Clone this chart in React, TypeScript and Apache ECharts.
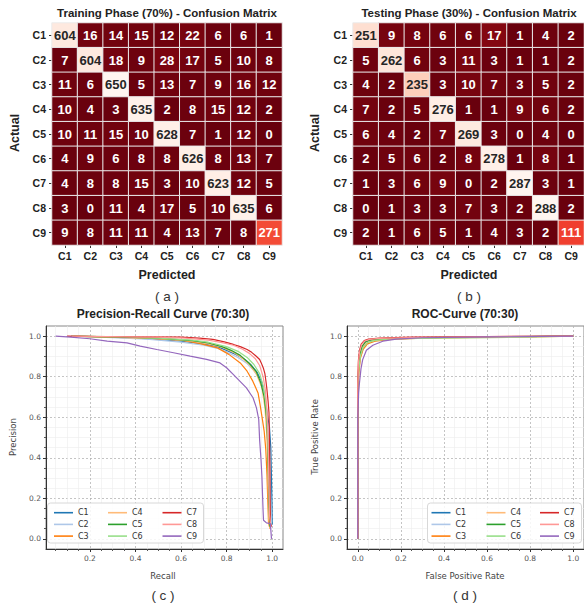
import React, { useEffect, useRef } from "react";
import * as echarts from "echarts";

const classes = ["C1", "C2", "C3", "C4", "C5", "C6", "C7", "C8", "C9"];

const trainMatrix = [
  [604, 16, 14, 15, 12, 22, 6, 6, 1],
  [7, 604, 18, 9, 28, 17, 5, 10, 8],
  [11, 6, 650, 5, 13, 7, 9, 16, 12],
  [10, 4, 3, 635, 2, 8, 15, 12, 2],
  [10, 11, 15, 10, 628, 7, 1, 12, 0],
  [4, 9, 6, 8, 8, 626, 8, 13, 7],
  [4, 8, 8, 15, 3, 10, 623, 12, 5],
  [3, 0, 11, 4, 17, 5, 10, 635, 6],
  [9, 8, 11, 11, 4, 13, 7, 8, 271],
];

const testMatrix = [
  [251, 9, 8, 6, 6, 17, 1, 4, 2],
  [5, 262, 6, 3, 11, 3, 1, 1, 2],
  [4, 2, 235, 3, 10, 7, 3, 5, 2],
  [7, 2, 5, 276, 1, 1, 9, 6, 2],
  [6, 4, 2, 7, 269, 3, 0, 4, 0],
  [2, 5, 6, 2, 8, 278, 1, 8, 1],
  [1, 3, 6, 9, 0, 2, 287, 3, 1],
  [0, 1, 3, 3, 7, 3, 2, 288, 2],
  [2, 1, 6, 5, 1, 4, 3, 2, 111],
];

const seriesColors = ["#1f77b4", "#aec7e8", "#ff7f0e", "#ffbb78", "#2ca02c", "#98df8a", "#d62728", "#ff9896", "#9467bd"];
const redsReversed = ["#67000d", "#a50f15", "#cb181d", "#ef3b2c", "#fb6a4a", "#fc9272", "#fcbba1", "#fee0d2", "#fff5f0"];

const axisTicks = [0, 0.2, 0.4, 0.6, 0.8, 1.0];
const prRecallTicks = [0.2, 0.4, 0.6, 0.8, 1.0];

// Precision-Recall points: [recall, precision]
const prC1 = [[0.12,1.0],[0.3,0.995],[0.45,0.988],[0.6,0.975],[0.7,0.962],[0.76,0.948],[0.8,0.93],[0.84,0.91],[0.88,0.885],[0.91,0.855],[0.935,0.82],[0.955,0.77],[0.968,0.7],[0.978,0.62],[0.988,0.55],[0.994,0.45],[0.997,0.3],[0.999,0.18],[1.0,0.07]];
const prC2 = [[0.12,1.0],[0.3,0.993],[0.45,0.985],[0.6,0.97],[0.7,0.955],[0.76,0.94],[0.8,0.922],[0.85,0.895],[0.89,0.865],[0.92,0.83],[0.945,0.785],[0.96,0.73],[0.972,0.66],[0.98,0.57],[0.987,0.45],[0.991,0.3],[0.994,0.15],[0.997,0.07]];
const prC3 = [[0.13,1.0],[0.3,0.995],[0.42,0.992],[0.6,0.98],[0.68,0.964],[0.76,0.942],[0.81,0.91],[0.86,0.868],[0.89,0.827],[0.915,0.778],[0.938,0.72],[0.948,0.655],[0.957,0.589],[0.965,0.53],[0.972,0.44],[0.977,0.32],[0.981,0.18],[0.984,0.08],[0.99,0.05]];
const prC4 = [[0.12,1.0],[0.35,0.993],[0.5,0.988],[0.65,0.975],[0.72,0.962],[0.78,0.945],[0.83,0.92],[0.87,0.89],[0.9,0.86],[0.93,0.815],[0.955,0.745],[0.968,0.65],[0.976,0.52],[0.98,0.38],[0.983,0.22],[0.985,0.1],[0.99,0.05]];
const prC5 = [[0.12,1.0],[0.35,0.995],[0.5,0.99],[0.65,0.978],[0.72,0.966],[0.78,0.948],[0.82,0.93],[0.86,0.905],[0.9,0.865],[0.93,0.825],[0.95,0.77],[0.965,0.7],[0.975,0.6],[0.98,0.48],[0.983,0.33],[0.986,0.17],[0.99,0.06]];
const prC6 = [[0.12,1.0],[0.35,0.996],[0.5,0.99],[0.65,0.98],[0.72,0.97],[0.8,0.948],[0.85,0.925],[0.89,0.895],[0.92,0.86],[0.945,0.815],[0.962,0.75],[0.973,0.66],[0.98,0.52],[0.985,0.35],[0.989,0.17],[0.993,0.07]];
const prC7 = [[0.1,1.0],[0.3,0.997],[0.45,0.996],[0.6,0.995],[0.68,0.99],[0.74,0.984],[0.79,0.972],[0.83,0.959],[0.86,0.948],[0.89,0.934],[0.91,0.92],[0.93,0.901],[0.945,0.885],[0.952,0.868],[0.962,0.84],[0.968,0.815],[0.973,0.775],[0.977,0.737],[0.982,0.68],[0.986,0.622],[0.988,0.5],[0.99,0.35],[0.991,0.2],[0.992,0.08],[0.997,0.06]];
const prC8 = [[0.12,1.0],[0.35,0.997],[0.5,0.995],[0.62,0.99],[0.72,0.98],[0.78,0.968],[0.83,0.955],[0.87,0.935],[0.9,0.915],[0.925,0.89],[0.945,0.855],[0.96,0.8],[0.97,0.735],[0.977,0.64],[0.982,0.5],[0.985,0.3],[0.988,0.12],[0.993,0.07]];
const prC9 = [[0.05,1.0],[0.116,0.995],[0.2,0.987],[0.276,0.975],[0.363,0.967],[0.421,0.951],[0.494,0.934],[0.567,0.918],[0.64,0.901],[0.712,0.885],[0.771,0.868],[0.8,0.844],[0.829,0.811],[0.858,0.778],[0.887,0.745],[0.916,0.696],[0.931,0.646],[0.941,0.589],[0.945,0.487],[0.951,0.39],[0.955,0.306],[0.958,0.207],[0.96,0.142],[0.962,0.092],[0.975,0.079],[0.992,0.075],[0.997,0.0]];

// ROC points: [false positive rate, true positive rate]
const rocC1 = [[0,0],[0,0.72],[0.004,0.84],[0.01,0.9],[0.02,0.945],[0.035,0.97],[0.06,0.98],[0.1,0.985],[0.2,0.99],[0.4,0.995],[0.7,0.998],[1,1]];
const rocC2 = [[0,0],[0,0.7],[0.005,0.83],[0.012,0.895],[0.025,0.94],[0.045,0.965],[0.08,0.977],[0.15,0.985],[0.3,0.992],[0.6,0.996],[1,1]];
const rocC3 = [[0,0],[0,0.68],[0.005,0.82],[0.012,0.89],[0.025,0.935],[0.045,0.962],[0.08,0.975],[0.15,0.984],[0.3,0.99],[0.6,0.995],[1,1]];
const rocC4 = [[0,0],[0,0.7],[0.004,0.835],[0.01,0.9],[0.022,0.945],[0.04,0.968],[0.07,0.978],[0.13,0.985],[0.3,0.991],[0.8,0.995],[1,1]];
const rocC5 = [[0,0],[0,0.72],[0.004,0.85],[0.01,0.91],[0.02,0.95],[0.035,0.972],[0.06,0.982],[0.12,0.988],[0.3,0.993],[0.7,0.997],[1,1]];
const rocC6 = [[0,0],[0,0.71],[0.005,0.84],[0.012,0.9],[0.025,0.945],[0.045,0.968],[0.08,0.979],[0.15,0.986],[0.35,0.99],[0.7,0.994],[1,1]];
const rocC7 = [[0,0],[0,0.78],[0.003,0.88],[0.008,0.93],[0.016,0.96],[0.03,0.978],[0.05,0.985],[0.1,0.99],[0.25,0.995],[0.6,0.998],[1,1]];
const rocC8 = [[0,0],[0,0.76],[0.003,0.87],[0.009,0.925],[0.018,0.958],[0.032,0.976],[0.055,0.984],[0.1,0.989],[0.3,0.994],[0.6,0.997],[1,1]];
const rocC9 = [[0,0],[0,0.6],[0.004,0.72],[0.008,0.77],[0.015,0.84],[0.023,0.885],[0.04,0.93],[0.07,0.955],[0.116,0.975],[0.178,0.985],[0.3,0.992],[0.6,0.996],[1,1]];

const prCurves = [prC1, prC2, prC3, prC4, prC5, prC6, prC7, prC8, prC9];
const rocCurves = [rocC1, rocC2, rocC3, rocC4, rocC5, rocC6, rocC7, rocC8, rocC9];

const SANS = '"Liberation Sans", Arial, sans-serif';
const MPL = '"DejaVu Sans", sans-serif';

function heatData(m: number[][]) {
  const max = Math.max(...m.flat());
  const out: any[] = [];
  m.forEach((row, i) =>
    row.forEach((v, j) => {
      out.push({ value: [j, i, v], label: { color: v / max > 0.55 ? "#262626" : "#ffffff" } });
    })
  );
  return out;
}

function catAxis(gridIndex: number, isY: boolean) {
  return {
    type: "category",
    gridIndex,
    data: classes,
    inverse: isY,
    axisLine: { show: false },
    axisTick: { show: true, length: 3, alignWithLabel: true, lineStyle: { color: "#333" } },
    axisLabel: { fontFamily: SANS, fontWeight: "bold", fontSize: 10.5, color: "#222", margin: isY ? 6 : 5 },
    splitLine: { show: false },
  };
}

function valAxis(gridIndex: number, min: number, max: number, ticks: number[]) {
  return {
    type: "value",
    gridIndex,
    min,
    max,
    axisLine: { show: true, onZero: false, lineStyle: { color: "#333", width: 1 } },
    axisTick: { show: true, length: 3, customValues: ticks, lineStyle: { color: "#333" } },
    axisLabel: {
      customValues: ticks,
      fontFamily: MPL,
      fontSize: 7.5,
      color: "#555",
      margin: 5,
      formatter: (v: number) => v.toFixed(1),
    },
    splitLine: { show: true, lineStyle: { type: [2, 2], color: "#b5b5b5", width: 0.8 } },
    minorTick: { show: true, splitNumber: 4, length: 2, lineStyle: { color: "#555" } },
    minorSplitLine: { show: true, lineStyle: { color: "#ececec", width: 0.6 } },
  };
}

function txt(text: string, x: number, y: number, font: string, fill = "#222", rotation = 0) {
  return {
    type: "text",
    x,
    y,
    rotation,
    z: 10,
    style: { text, x: 0, y: 0, font, fill, textAlign: "center", textVerticalAlign: "middle" },
  };
}

export default function App() {
  const ref = useRef<HTMLDivElement>(null);
  useEffect(() => {
    if (!ref.current) return;
    const chart = echarts.init(ref.current, undefined, { renderer: "svg" });
    const trainMax = Math.max(...trainMatrix.flat());
    const testMax = Math.max(...testMatrix.flat());

    const heatSeries = (data: any[], idx: number) => ({
      type: "heatmap",
      xAxisIndex: idx,
      yAxisIndex: idx,
      data,
      label: { show: true, fontFamily: SANS, fontWeight: "bold", fontSize: 13, formatter: (p: any) => String(p.value[2]) },
      itemStyle: { borderColor: "#ececec", borderWidth: 1 },
      emphasis: { disabled: true },
    });

    const lineSeries = (curves: number[][][], idx: number) =>
      curves.map((d, i) => ({
        type: "line",
        name: classes[i],
        xAxisIndex: idx,
        yAxisIndex: idx,
        data: d,
        showSymbol: false,
        symbol: "none",
        color: seriesColors[i],
        lineStyle: { color: seriesColors[i], width: 1.2 },
        emphasis: { disabled: true },
        z: 2,
      }));

    const prLegendLeft = [54, 108, 162.5];
    const rocLegendLeft = [431.5, 486.5, 540];
    const legends: any[] = [];
    [prLegendLeft, rocLegendLeft].forEach((lefts) => {
      lefts.forEach((left, k) => {
        legends.push({
          data: classes.slice(k * 3, k * 3 + 3),
          left,
          top: 507.7,
          orient: "vertical",
          icon: "rect",
          itemWidth: 19,
          itemHeight: 1.6,
          itemGap: 1.7,
          padding: 0,
          selectedMode: false,
          textStyle: { fontFamily: MPL, fontSize: 8, lineHeight: 10, color: "#333" },
        });
      });
    });

    const option: any = {
      animation: false,
      backgroundColor: "#ffffff",
      grid: [
        { left: 52, top: 23, width: 230, height: 222 },
        { left: 353, top: 23, width: 231, height: 222 },
        { left: 46, top: 326, width: 237, height: 223, show: true, borderColor: "#888", borderWidth: 1, backgroundColor: "#fff" },
        { left: 347, top: 326, width: 238, height: 223, show: true, borderColor: "#888", borderWidth: 1, backgroundColor: "#fff" },
      ],
      xAxis: [
        catAxis(0, false),
        catAxis(1, false),
        valAxis(2, 0.0075, 1.0475, prRecallTicks),
        valAxis(3, -0.05, 1.05, axisTicks),
      ],
      yAxis: [
        catAxis(0, true),
        catAxis(1, true),
        valAxis(2, -0.05, 1.05, axisTicks),
        valAxis(3, -0.05, 1.05, axisTicks),
      ],
      visualMap: [
        { type: "continuous", show: false, seriesIndex: 0, min: 0, max: trainMax, inRange: { color: redsReversed } },
        { type: "continuous", show: false, seriesIndex: 1, min: 0, max: testMax, inRange: { color: redsReversed } },
      ],
      legend: legends,
      series: [
        heatSeries(heatData(trainMatrix), 0),
        heatSeries(heatData(testMatrix), 1),
        ...lineSeries(prCurves, 2),
        ...lineSeries(rocCurves, 3),
      ],
      graphic: [
        { type: "rect", z: 3, shape: { x: 47.5, y: 503, width: 156, height: 40, r: 3 }, style: { fill: "rgba(255,255,255,0.85)", stroke: "#d8d8d8", lineWidth: 1 } },
        { type: "rect", z: 3, shape: { x: 427.5, y: 503, width: 154, height: 40, r: 3 }, style: { fill: "rgba(255,255,255,0.85)", stroke: "#d8d8d8", lineWidth: 1 } },
        txt("Training Phase (70%) - Confusion Matrix", 167, 13, `bold 11.5px ${SANS}`),
        txt("Testing Phase (30%) - Confusion Matrix", 469, 13, `bold 11.5px ${SANS}`),
        txt("Actual", 15, 133, `bold 12.5px ${SANS}`, "#222", Math.PI / 2),
        txt("Actual", 315, 133, `bold 12.5px ${SANS}`, "#222", Math.PI / 2),
        txt("Predicted", 167, 275, `bold 12.5px ${SANS}`),
        txt("Predicted", 469, 275, `bold 12.5px ${SANS}`),
        txt("( a )", 167, 296, `13.5px ${SANS}`, "#333"),
        txt("( b )", 469, 296, `13.5px ${SANS}`, "#333"),
        txt("Precision-Recall Curve (70:30)", 163, 314, `bold 12px ${SANS}`),
        txt("ROC-Curve (70:30)", 465, 314, `bold 12px ${SANS}`),
        txt("Recall", 163, 576, `8.5px ${MPL}`, "#444"),
        txt("Precision", 13, 437, `8.5px ${MPL}`, "#444", Math.PI / 2),
        txt("False Positive Rate", 465, 576, `8.5px ${MPL}`, "#444"),
        txt("True Positive Rate", 315, 437, `8.5px ${MPL}`, "#444", Math.PI / 2),
        txt("( c )", 163, 595, `13.5px ${SANS}`, "#333"),
        txt("( d )", 465, 595, `13.5px ${SANS}`, "#333"),
      ],
    };
    chart.setOption(option);
    return () => chart.dispose();
  }, []);
  return <div ref={ref} style={{ position: "absolute", left: 0, top: 0, width: 584, height: 607 }} />;
}
